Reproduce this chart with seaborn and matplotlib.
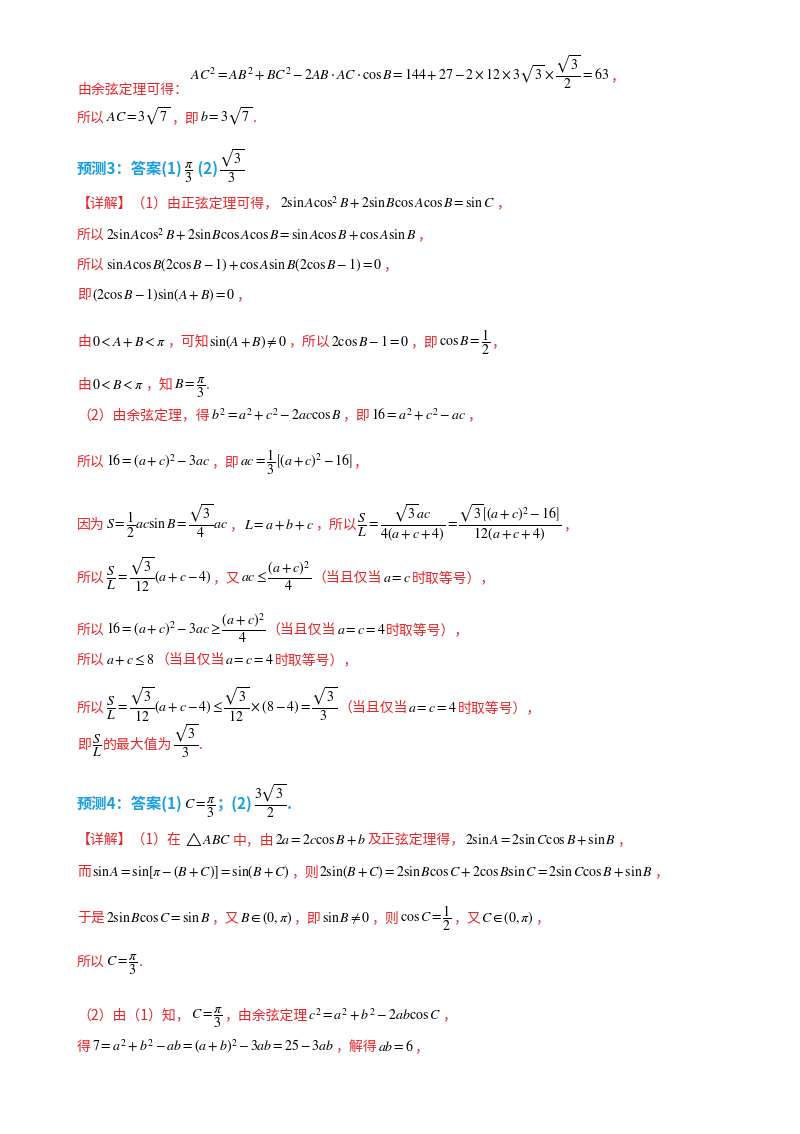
import matplotlib
matplotlib.use("Agg")
import matplotlib.pyplot as plt
import seaborn as sns

sns.set_theme(style="white")
plt.rcParams['font.family'] = ['Noto Sans CJK SC', 'DejaVu Sans']
plt.rcParams['mathtext.fontset'] = 'stix'

RED = '#e8262a'
BLUE = '#1a9fe0'

# text lines: parts between $...$ are formulas (black), others are red (or blue for headings)
lines = [
    r"$AC^2=AB^2+BC^2-2AB\cdot AC\cdot\cos B=144+27-2\times12\times3\sqrt{3}\times\dfrac{\sqrt{3}}{2}=63$，",
    r"由余弦定理可得：",
    r"所以$AC=3\sqrt{7}$，即$b=3\sqrt{7}$.",
    r"预测3：答案(1)$\dfrac{\pi}{3}$ (2)$\dfrac{\sqrt{3}}{3}$",
    r"【详解】（1）由正弦定理可得，$2\sin A\cos^2B+2\sin B\cos A\cos B=\sin C$，",
    r"所以$2\sin A\cos^2B+2\sin B\cos A\cos B=\sin A\cos B+\cos A\sin B$，",
    r"所以$\sin A\cos B(2\cos B-1)+\cos A\sin B(2\cos B-1)=0$，",
    r"即$(2\cos B-1)\sin(A+B)=0$，",
    r"由$0<A+B<\pi$，可知$\sin(A+B)\neq0$，所以$2\cos B-1=0$，即$\cos B=\dfrac{1}{2}$，",
    r"由$0<B<\pi$，知$B=\dfrac{\pi}{3}$.",
    r"（2）由余弦定理，得$b^2=a^2+c^2-2ac\cos B$，即$16=a^2+c^2-ac$，",
    r"所以$16=(a+c)^2-3ac$，即$ac=\dfrac{1}{3}\left[(a+c)^2-16\right]$，",
    r"因为$S=\dfrac{1}{2}ac\sin B=\dfrac{\sqrt{3}}{4}ac$，$L=a+b+c$，所以$\dfrac{S}{L}=\dfrac{\sqrt{3}ac}{4(a+c+4)}=\dfrac{\sqrt{3}\left[(a+c)^2-16\right]}{12(a+c+4)}$，",
    r"所以$\dfrac{S}{L}=\dfrac{\sqrt{3}}{12}(a+c-4)$，又$ac\leq\dfrac{(a+c)^2}{4}$（当且仅当$a=c$时取等号），",
    r"所以$16=(a+c)^2-3ac\geq\dfrac{(a+c)^2}{4}$（当且仅当$a=c=4$时取等号），",
    r"所以$a+c\leq8$（当且仅当$a=c=4$时取等号），",
    r"所以$\dfrac{S}{L}=\dfrac{\sqrt{3}}{12}(a+c-4)\leq\dfrac{\sqrt{3}}{12}\times(8-4)=\dfrac{\sqrt{3}}{3}$（当且仅当$a=c=4$时取等号），",
    r"即$\dfrac{S}{L}$的最大值为$\dfrac{\sqrt{3}}{3}$.",
    r"预测4：答案(1)$C=\dfrac{\pi}{3}$；(2)$\dfrac{3\sqrt{3}}{2}$.",
    r"【详解】（1）在$\triangle ABC$中，由$2a=2c\cos B+b$及正弦定理得，$2\sin A=2\sin C\cos B+\sin B$，",
    r"而$\sin A=\sin[\pi-(B+C)]=\sin(B+C)$，则$2\sin(B+C)=2\sin B\cos C+2\cos B\sin C=2\sin C\cos B+\sin B$，",
    r"于是$2\sin B\cos C=\sin B$，又$B\in(0,\pi)$，即$\sin B\neq0$，则$\cos C=\dfrac{1}{2}$，又$C\in(0,\pi)$，",
    r"所以$C=\dfrac{\pi}{3}$.",
    r"（2）由（1）知，$C=\dfrac{\pi}{3}$，由余弦定理$c^2=a^2+b^2-2ab\cos C$，",
    r"得$7=a^2+b^2-ab=(a+b)^2-3ab=25-3ab$，解得$ab=6$，",
]
line_x = [190, 77, 77, 77, 77, 77, 77, 77, 77, 77, 77, 77, 77, 77, 77, 77, 77, 77, 77, 77, 77, 77, 77, 77, 77]
line_y = [80, 94, 122, 174, 207, 239, 269, 299, 346, 389, 419, 466, 529, 582, 634, 664, 712, 749, 809, 844, 876, 922, 966, 1019, 1051]
headings = [3, 18]

fig = plt.figure(figsize=(8, 11.34), dpi=100)
ax = fig.add_axes([0, 0, 1, 1])
ax.set_xlim(0, 800)
ax.set_ylim(1134, 0)
ax.axis('off')
renderer = fig.canvas.get_renderer()
inv = ax.transData.inverted()

for i, (s, x, y) in enumerate(zip(lines, line_x, line_y)):
    parts = s.split('$')
    for k, p in enumerate(parts):
        if not p:
            continue
        if k % 2 == 1:
            t = ax.text(x, y, '$' + p + '$', color='black', fontsize=10, va='baseline')
        else:
            col = BLUE if i in headings else RED
            w = 'bold' if i in headings else 'normal'
            t = ax.text(x, y, p, color=col, fontsize=10 if i not in headings else 11,
                        fontweight=w, va='baseline')
        bb = t.get_window_extent(renderer).transformed(inv)
        x = bb.x1 + 1

fig.savefig('out.png', dpi=100)
